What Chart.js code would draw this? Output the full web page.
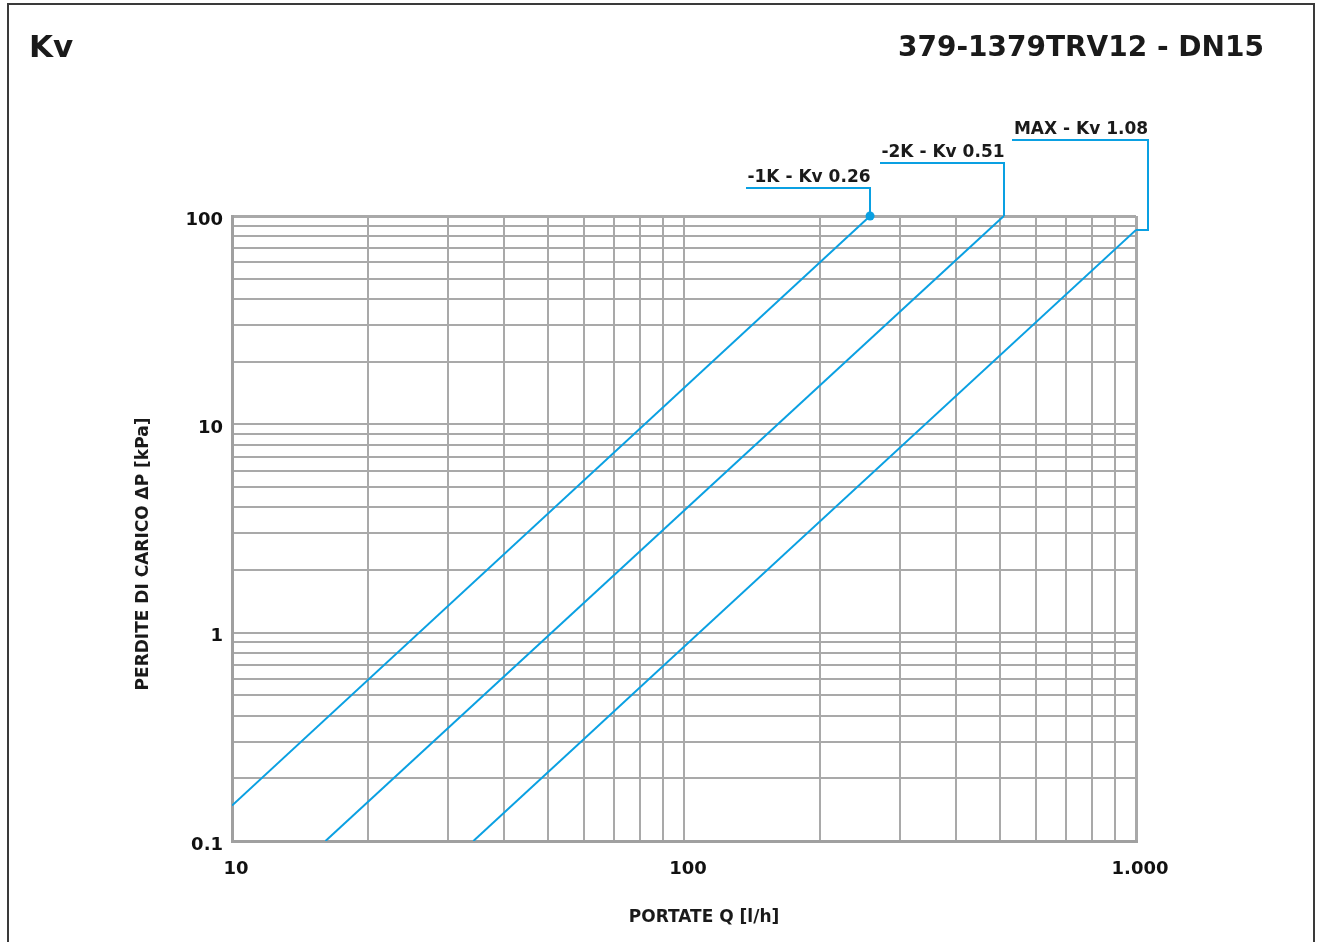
<!DOCTYPE html>
<html>
<head>
<meta charset="utf-8">
<style>
  body { margin: 0; background: #fff; }
  #wrap { position: relative; width: 1319px; height: 942px; }
</style>
<script src="https://cdn.jsdelivr.net/npm/chart.js@4.4.0/dist/chart.umd.min.js"></script>
</head>
<body>
<div id="wrap"><canvas id="kvChart"></canvas></div>
<script>
// grid / tick values
var xTicks = [10, 20, 30, 40, 50, 60, 70, 80, 90, 100, 200, 300, 400, 500, 600, 700, 800, 900, 1000];
var yTicks = [0.1, 0.2, 0.3, 0.4, 0.5, 0.6, 0.7, 0.8, 0.9, 1, 2, 3, 4, 5, 6, 7, 8, 9, 10, 20, 30, 40, 50, 60, 70, 80, 90, 100];
var xTickLabels = { 10: "10", 100: "100", 1000: "1.000" };
var yTickLabels = { 0.1: "0.1", 1: "1", 10: "10", 100: "100" };

// each Kv curve is a straight line on log-log paper: two end points
var kv026 = [{ x: 10, y: 0.148 }, { x: 258, y: 100 }];
var kv051 = [{ x: 16.1, y: 0.1 }, { x: 510, y: 100 }];
var kv108 = [{ x: 34.2, y: 0.1 }, { x: 1000, y: 85.7 }];

var seriesNames = ["-1K - Kv 0.26", "-2K - Kv 0.51", "MAX - Kv 1.08"];

var FONT = '"DejaVu Sans", "Liberation Sans", Arial, sans-serif';
var BLUE = "#0aa0e2";

// leader lines + labels, page frame, titles
var decorPlugin = {
  id: "decor",
  beforeDraw: function (chart) {
    var c = chart.ctx;
    c.save();
    c.fillStyle = "#fff";
    c.fillRect(0, 0, chart.width, chart.height);
    c.strokeStyle = "#3a3a3a";
    c.lineWidth = 2;
    c.beginPath();
    c.moveTo(8, chart.height + 5);
    c.lineTo(8, 4);
    c.lineTo(1314, 4);
    c.lineTo(1314, chart.height + 5);
    c.stroke();
    c.restore();
  },
  afterDraw: function (chart) {
    var c = chart.ctx;
    var area = chart.chartArea;
    c.save();
    c.fillStyle = "#1a1a1a";
    c.textBaseline = "alphabetic";

    c.font = "bold 31px " + FONT;
    c.textAlign = "left";
    c.fillText("Kv", 29, 57);
    c.font = "bold 28px " + FONT;
    c.textAlign = "right";
    c.fillText("379-1379TRV12 - DN15", 1264, 56);

    c.font = "bold 17px " + FONT;
    c.textAlign = "center";
    c.fillText("PORTATE Q [l/h]", 704, 922);
    c.save();
    c.translate(148, 554);
    c.rotate(-Math.PI / 2);
    c.fillText("PERDITE DI CARICO \u0394P [kPa]", 0, 0);
    c.restore();

    // leader lines
    var lineYs = [188, 163, 140];
    var lineLens = [124, 124, 136];
    c.strokeStyle = BLUE;
    c.lineWidth = 2;
    chart.data.datasets.forEach(function (ds, i) {
      var meta = chart.getDatasetMeta(i);
      var p = meta.data[meta.data.length - 1];
      var px = Math.round(p.x), py = p.y;
      var xr = px;
      c.beginPath();
      if (py > area.top + 3) {
        xr = area.right + 12;
        c.moveTo(px, py);
        c.lineTo(xr, py);
        c.lineTo(xr, lineYs[i]);
      } else {
        c.moveTo(px, py);
        c.lineTo(xr, lineYs[i]);
      }
      c.lineTo(xr - lineLens[i], lineYs[i]);
      c.stroke();

      c.font = "bold 17px " + FONT;
      c.textAlign = "center";
      c.fillStyle = "#1a1a1a";
      c.fillText(seriesNames[i], xr - lineLens[i] / 2 + 1, lineYs[i] - 6);
    });

    // end dot of the first curve
    var m0 = chart.getDatasetMeta(0);
    var d0 = m0.data[m0.data.length - 1];
    c.fillStyle = BLUE;
    c.beginPath();
    c.arc(d0.x, d0.y, 4.5, 0, Math.PI * 2);
    c.fill();
    c.restore();
  }
};

var ctx = document.getElementById("kvChart");
new Chart(ctx, {
  type: "line",
  data: {
    datasets: [
      {
        label: seriesNames[0],
        data: kv026,
        borderColor: BLUE,
        borderWidth: 2,
        pointRadius: 0,
        fill: false,
      },
      {
        label: seriesNames[1],
        data: kv051,
        borderColor: BLUE,
        borderWidth: 2,
        pointRadius: 0,
        fill: false,
      },
      {
        label: seriesNames[2],
        data: kv108,
        borderColor: BLUE,
        borderWidth: 2,
        pointRadius: 0,
        fill: false,
      },
    ],
  },
  options: {
    responsive: true,
    maintainAspectRatio: false,
    animation: false,
    layout: { padding: { top: 216, right: 183, left: 0, bottom: 0 } },
    plugins: {
      legend: { display: false },
      title: { display: false },
      tooltip: { enabled: false },
    },
    scales: {
      x: {
        type: "logarithmic",
        min: 10,
        max: 1000,
        afterFit: function (scale) { scale.height = 101; },
        afterBuildTicks: function (scale) {
          scale.ticks = xTicks.map(function (v) { return { value: v }; });
        },
        grid: {
          color: "#a9a9a9",
          lineWidth: function (c) {
            var v = c.tick ? c.tick.value : 0;
            return v === 10 || v === 1000 ? 3 : 2;
          },
          drawTicks: false,
        },
        border: { color: "#a0a0a0", width: 3 },
        ticks: {
          autoSkip: false,
          maxRotation: 0,
          padding: 18,
          labelOffset: 4,
          color: "#111",
          font: { family: FONT, size: 18, weight: "bold" },
          callback: function (value) {
            return xTickLabels[value] || "";
          },
        },
      },
      y: {
        type: "logarithmic",
        min: 0.1,
        max: 100,
        afterFit: function (scale) { scale.width = 232; },
        afterBuildTicks: function (scale) {
          scale.ticks = yTicks.map(function (v) { return { value: v }; });
        },
        grid: {
          color: "#a9a9a9",
          lineWidth: function (c) {
            var v = c.tick ? c.tick.value : 0;
            return v === 0.1 || v === 100 ? 3 : 2;
          },
          drawTicks: false,
        },
        border: { color: "#a0a0a0", width: 3 },
        ticks: {
          autoSkip: false,
          padding: 9,
          labelOffset: 4,
          color: "#111",
          font: { family: FONT, size: 18, weight: "bold" },
          callback: function (value) {
            var k = Math.round(value * 10) / 10;
            return yTickLabels[k] || "";
          },
        },
      },
    },
  },
  plugins: [decorPlugin],
});
</script>
</body>
</html>
